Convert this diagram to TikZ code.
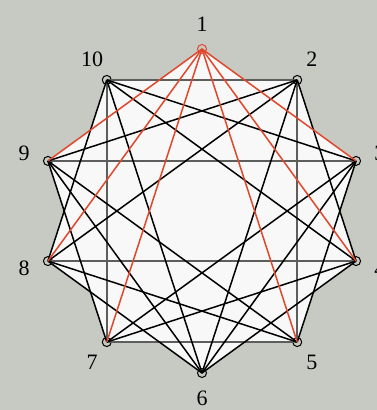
\documentclass[tikz,border=0pt]{standalone}
\usepackage{fontspec}
\setmainfont{Liberation Serif}
\usetikzlibrary{calc}
\definecolor{cbg}{HTML}{C6CAC3}
\definecolor{cfill}{HTML}{F7F8F7}
\definecolor{cred}{HTML}{E0472C}
\definecolor{cgrey}{HTML}{5C5E5C}
\tikzset{
  vertex/.style={circle, draw=#1, line width=1pt, minimum size=9pt, inner sep=0pt},
  vertex/.default=black,
  edge/.style={draw=black, line width=1.5pt},
  hot/.style={draw=cred, line width=1.5pt},
  frame/.style={draw=cgrey, line width=1.7pt},
  vlabel/.style={font=\fontsize{22}{24}\selectfont, inner sep=0pt},
}

\begin{document}
\begin{tikzpicture}[x=1pt, y=1pt]
  \useasboundingbox (0,0) rectangle (377,410);
  \clip (0,0) rectangle (377,410);
  \fill[cbg] (0,0) rectangle (377,410);
  \coordinate (c) at (202,199);
  % vertex positions and labels
  \foreach \i in {1,...,10} {
    \coordinate (p\i) at ($(c)+({90-36*(\i-1)}:162)$);
    \node[vlabel] (l\i) at ($(c)+({90-36*(\i-1)}:187)$) {\i};
  }
  % white star behind the edges
  \fill[cfill] (p1) -- (p3) -- (p5) -- (p7) -- (p9) -- cycle
               (p2) -- (p4) -- (p6) -- (p8) -- (p10) -- cycle;
  % vertices
  \node[vertex=cred] (v1) at (p1) {};
  \foreach \i in {2,...,10} \node[vertex] (v\i) at (p\i) {};
  % grey frame
  \foreach \a/\b in {10/2, 7/5, 10/7, 2/5, 9/3, 8/4}
    \draw[frame] (v\a.center) -- (v\b.center);
  % black edges
  \foreach \a/\b in {2/4, 3/5, 4/6, 6/8, 7/9, 8/10,
                     3/6, 4/7, 5/8, 6/9, 9/2, 10/3,
                     2/6, 3/7, 5/9, 6/10, 8/2, 10/4}
    \draw[edge] (v\a.center) -- (v\b.center);
  % edges of vertex 1
  \foreach \b in {3,4,5,7,8,9}
    \draw[hot] (v1.center) -- (v\b.center);
\end{tikzpicture}
\end{document}
